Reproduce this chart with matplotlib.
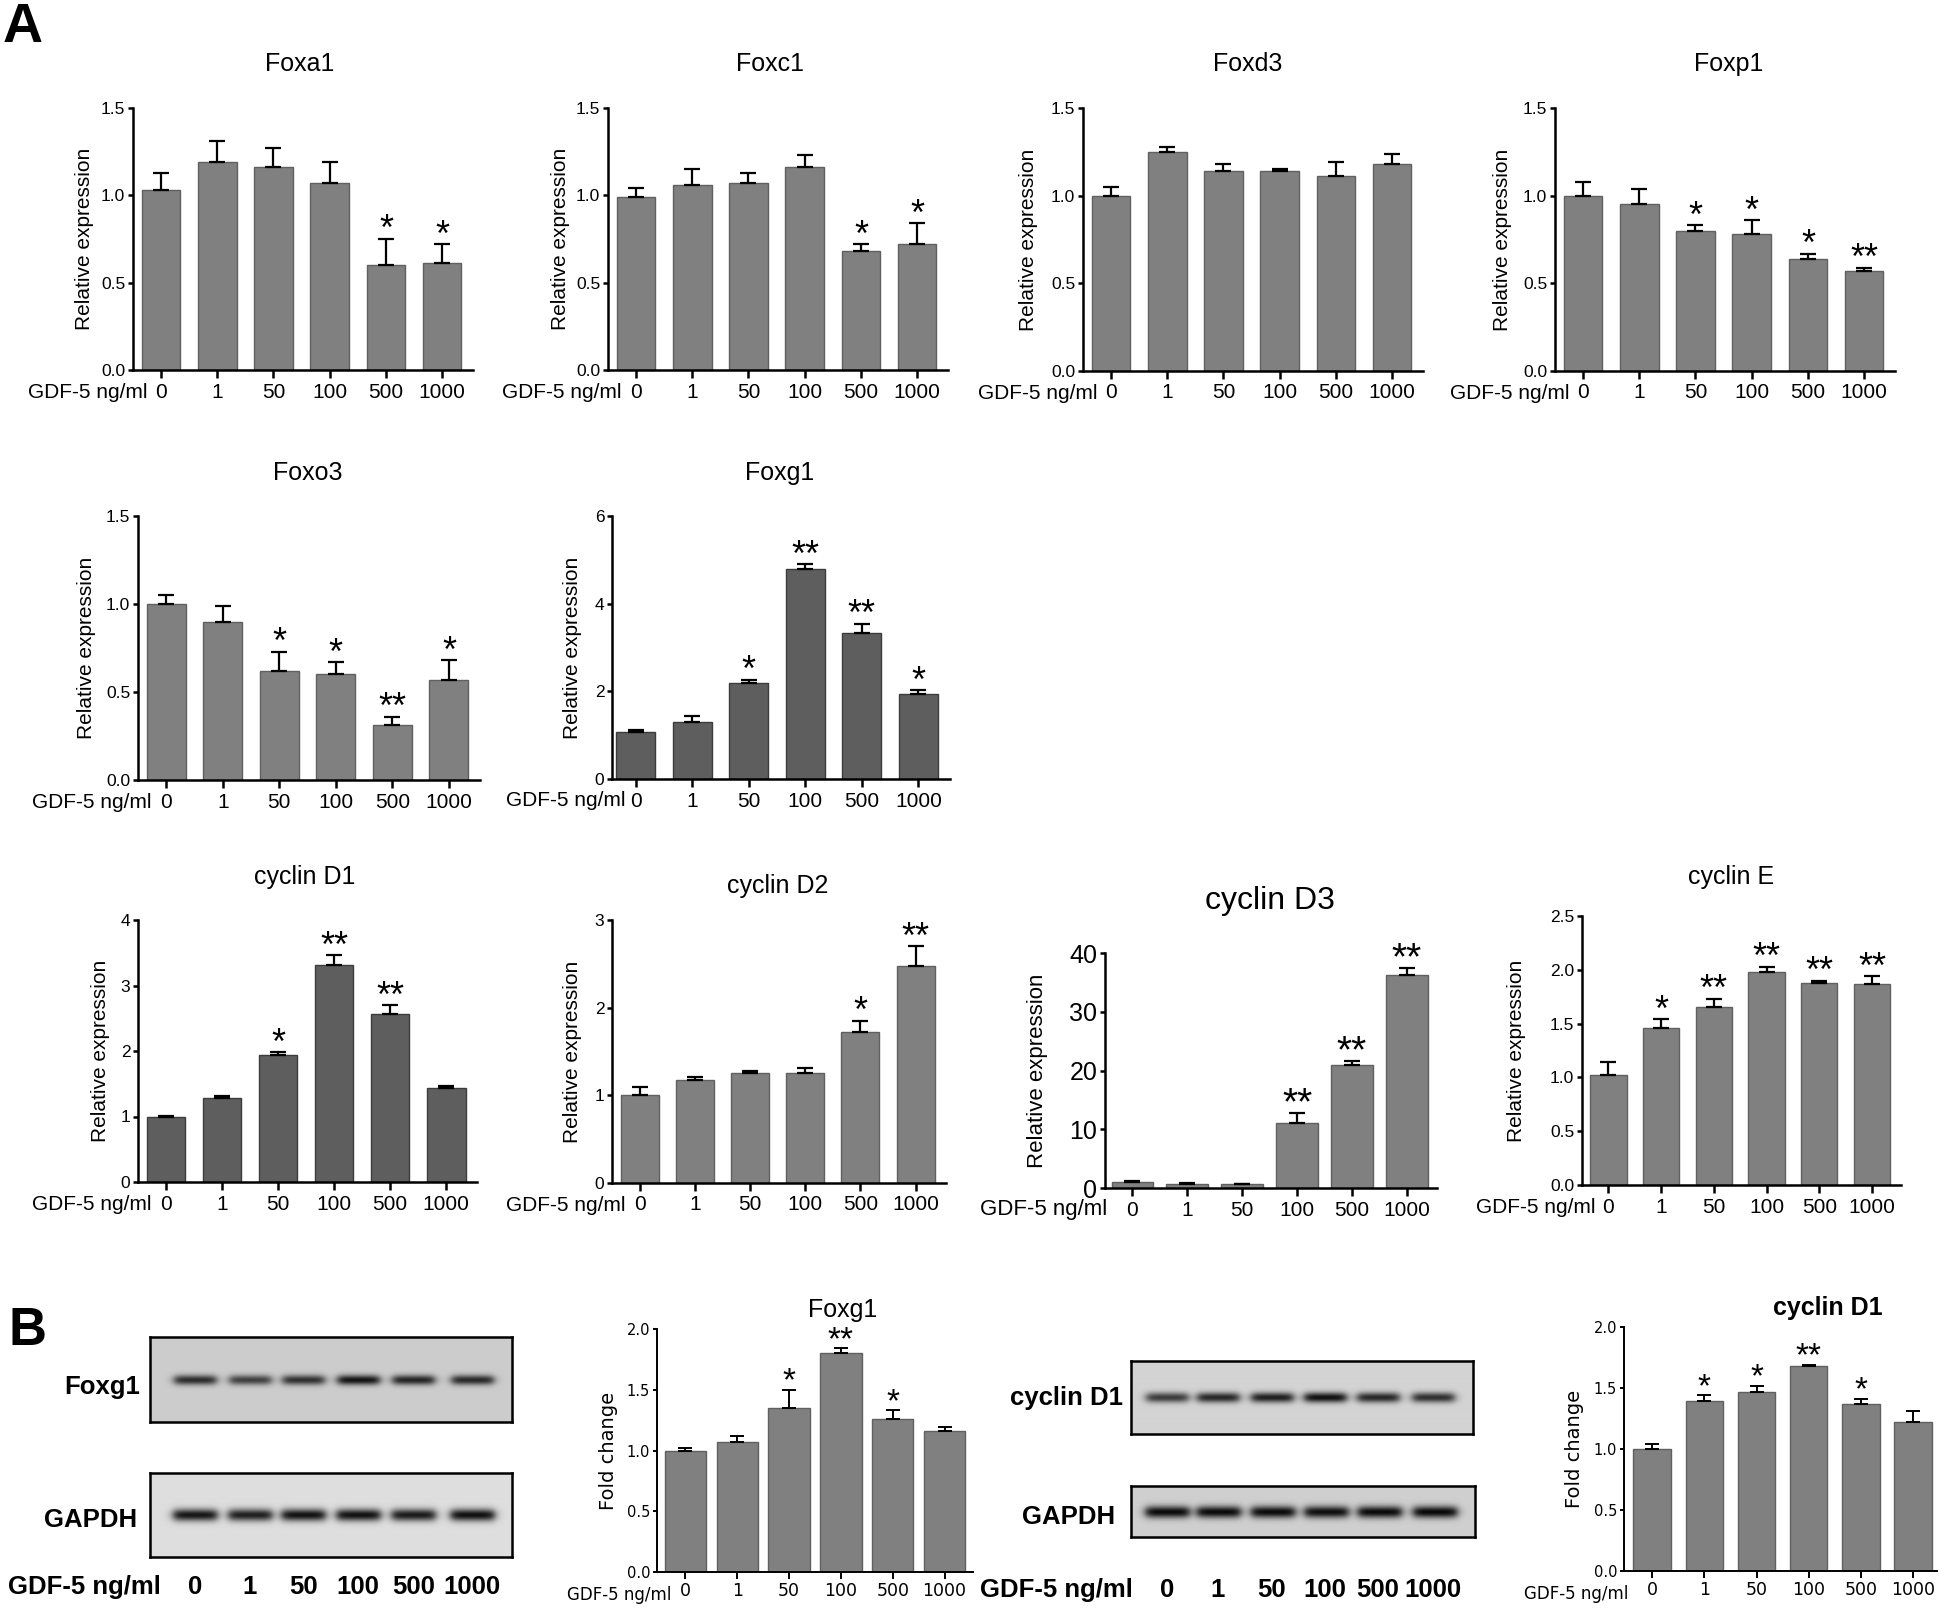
import numpy as np
import matplotlib
matplotlib.use('Agg')
import matplotlib.pyplot as plt
from matplotlib.ticker import FormatStrFormatter

W, H = 1946, 1610

doses = ['0', '1', '50', '100', '500', '1000']

# ---- Panel A: qPCR, relative expression (mean, upper error, significance) ----
foxa1_mean = [1.03, 1.19, 1.16, 1.07, 0.60, 0.61]
foxa1_err = [0.10, 0.12, 0.11, 0.12, 0.15, 0.11]
foxa1_sig = ['', '', '', '', '*', '*']

foxc1_mean = [0.99, 1.06, 1.07, 1.16, 0.68, 0.72]
foxc1_err = [0.05, 0.09, 0.06, 0.07, 0.04, 0.12]
foxc1_sig = ['', '', '', '', '*', '*']

foxd3_mean = [1.00, 1.25, 1.14, 1.14, 1.11, 1.18]
foxd3_err = [0.05, 0.03, 0.04, 0.01, 0.08, 0.06]
foxd3_sig = ['', '', '', '', '', '']

foxp1_mean = [1.00, 0.95, 0.80, 0.78, 0.64, 0.57]
foxp1_err = [0.08, 0.09, 0.03, 0.08, 0.03, 0.02]
foxp1_sig = ['', '', '*', '*', '*', '**']

foxo3_mean = [1.00, 0.90, 0.62, 0.60, 0.31, 0.57]
foxo3_err = [0.05, 0.09, 0.11, 0.07, 0.05, 0.11]
foxo3_sig = ['', '', '*', '*', '**', '*']

foxg1_mean = [1.07, 1.29, 2.20, 4.78, 3.34, 1.94]
foxg1_err = [0.05, 0.15, 0.06, 0.12, 0.20, 0.08]
foxg1_sig = ['', '', '*', '**', '**', '*']

ccnd1_mean = [1.00, 1.29, 1.94, 3.32, 2.57, 1.43]
ccnd1_err = [0.01, 0.02, 0.04, 0.14, 0.13, 0.03]
ccnd1_sig = ['', '', '*', '**', '**', '']

ccnd2_mean = [1.00, 1.18, 1.25, 1.26, 1.72, 2.48]
ccnd2_err = [0.10, 0.03, 0.03, 0.05, 0.13, 0.22]
ccnd2_sig = ['', '', '', '', '*', '**']

ccnd3_mean = [1.0, 0.75, 0.6, 11.1, 20.9, 36.3]
ccnd3_err = [0.2, 0.1, 0.1, 1.6, 0.8, 1.1]
ccnd3_sig = ['', '', '', '**', '**', '**']

ccne_mean = [1.02, 1.46, 1.65, 1.98, 1.88, 1.87]
ccne_err = [0.12, 0.08, 0.08, 0.05, 0.02, 0.07]
ccne_sig = ['', '*', '**', '**', '**', '**']

# ---- Panel B: western blot quantification (fold change) ----
wb_foxg1_mean = [1.00, 1.07, 1.35, 1.80, 1.26, 1.16]
wb_foxg1_err = [0.02, 0.05, 0.15, 0.04, 0.07, 0.03]
wb_foxg1_sig = ['', '', '*', '**', '*', '']

wb_ccnd1_mean = [1.00, 1.39, 1.47, 1.68, 1.37, 1.22]
wb_ccnd1_err = [0.04, 0.05, 0.05, 0.01, 0.04, 0.09]
wb_ccnd1_sig = ['', '*', '*', '**', '*', '']

# band darkness per lane (0 = no band, 1 = black)
blot_foxg1 = [0.78, 0.68, 0.76, 0.90, 0.82, 0.80]
blot_gapdh_1 = [0.90, 0.86, 0.92, 0.92, 0.88, 0.93]
blot_ccnd1 = [0.72, 0.82, 0.86, 0.93, 0.82, 0.78]
blot_gapdh_2 = [0.95, 0.95, 0.95, 0.93, 0.95, 0.96]

plt.rcParams['font.family'] = ['Liberation Sans', 'DejaVu Sans']

fig = plt.figure(figsize=(W / 100, H / 100), dpi=100)

A_STYLE = dict(bw=0.69, xlim=(-0.5, 5.55), spine=1.8, elw=1.6, cap=6, xtl=6, ytl=3.5,
               xfs=15, yfs=12.5, tfs=18, tweight='normal', lfs=15, gfs=15, sfs=26, soff=-1,
               family=['Liberation Sans', 'DejaVu Sans'], ylabel='Relative expression',
               gdx=14, gdy=22, xpad=3)
B_STYLE = dict(A_STYLE, bw=0.8, xlim=(-0.55, 5.55), spine=1.4, elw=1.4, cap=5, xtl=5, ytl=3,
               xfs=12.5, yfs=10.5, lfs=14, gfs=12, sfs=24, soff=-0.5,
               family=['DejaVu Sans'], ylabel='Fold change', gdy=23, xpad=2.5)


def px_axes(l, t, r, b):
    return fig.add_axes([l / W, 1 - b / H, (r - l) / W, (b - t) / H])


def bar_panel(box, title, mean, err, sig, ymax, yticks, yfmt, tx, tpad, loff,
              color='#808080', edge='#606060', base=A_STYLE, **kw):
    st = dict(base, **kw)
    l, t, r, b = box
    ax = px_axes(l, t, r, b)
    x = np.arange(len(doses))
    ax.bar(x, mean, width=st['bw'], color=color, edgecolor=edge, linewidth=1.0, zorder=2)
    ax.errorbar(x, mean, yerr=[np.zeros(len(mean)), err], fmt='none', ecolor='black',
                elinewidth=st['elw'], capsize=st['cap'], capthick=st['elw'], zorder=3)
    for i, s in enumerate(sig):
        if s:
            ax.annotate(s, (x[i], mean[i] + err[i]), xytext=(0, st['soff']),
                        textcoords='offset points', ha='center', va='baseline',
                        fontsize=st['sfs'], family=['Liberation Sans'])
    ax.set_xlim(*st['xlim'])
    ax.set_ylim(0, ymax)
    ax.set_yticks(yticks)
    if yfmt:
        ax.yaxis.set_major_formatter(FormatStrFormatter(yfmt))
    ax.set_xticks(x)
    ax.set_xticklabels(doses, fontsize=st['xfs'], family=st['family'])
    for lab in ax.get_yticklabels():
        lab.set_family(st['family'])
    ax.tick_params(axis='x', length=st['xtl'], width=st['spine'], pad=st['xpad'])
    ax.tick_params(axis='y', length=st['ytl'], width=st['spine'], pad=2,
                   labelsize=st['yfs'])
    for sp in ['top', 'right']:
        ax.spines[sp].set_visible(False)
    for sp in ['left', 'bottom']:
        ax.spines[sp].set_linewidth(st['spine'])
    ax.set_title(title, fontsize=st['tfs'], fontweight=st['tweight'], pad=tpad * 0.72,
                 x=(tx - l) / (r - l), family=['Liberation Sans'])
    ax.set_ylabel(st['ylabel'], fontsize=st['lfs'], va='center', family=st['family'])
    ax.yaxis.set_label_coords(-loff / (r - l), 0.5)
    fig.text((l + st['gdx']) / W, 1 - (b + st['gdy']) / H, 'GDF-5 ng/ml', ha='right',
             va='center', fontsize=st['gfs'], family=st['family'])
    return ax


def blot(box, lanes, strength, bg, band_w, band_h):
    l, t, r, b = box
    ax = px_axes(l, t, r, b)
    w, h = r - l, b - t
    yy = np.arange(h)[:, None]
    xx = np.arange(w)[None, :]
    img = np.full((h, w), bg)
    for cx, s in zip(lanes, strength):
        px = 1 / (1 + np.exp((np.abs(xx - cx * w) - band_w / 2) / 2.5))
        py = np.exp(-((yy - h * 0.5) / band_h) ** 2)
        img = img - s * bg * px * py
    ax.imshow(img, cmap='gray', vmin=0, vmax=1, aspect='auto', interpolation='bilinear')
    ax.set_xticks([])
    ax.set_yticks([])
    for sp in ax.spines.values():
        sp.set_linewidth(1.8)
    return ax


t15 = [0, 0.5, 1.0, 1.5]

# Row 1
bar_panel((133, 108, 473, 370), 'Foxa1', foxa1_mean, foxa1_err, foxa1_sig, 1.5, t15, '%.1f', 300, 37, 49)
bar_panel((608, 108, 948, 370), 'Foxc1', foxc1_mean, foxc1_err, foxc1_sig, 1.5, t15, '%.1f', 770, 37, 48)
bar_panel((1083, 108, 1423, 371), 'Foxd3', foxd3_mean, foxd3_err, foxd3_sig, 1.5, t15, '%.1f', 1248, 37, 55)
bar_panel((1555, 108, 1895, 371), 'Foxp1', foxp1_mean, foxp1_err, foxp1_sig, 1.5, t15, '%.1f', 1729, 37, 52)

# Row 2
bar_panel((138, 516, 480, 780), 'Foxo3', foxo3_mean, foxo3_err, foxo3_sig, 1.5, t15, '%.1f', 308, 36, 51)
bar_panel((612, 516, 950, 779), 'Foxg1', foxg1_mean, foxg1_err, foxg1_sig, 6, [0, 2, 4, 6], None, 780, 36, 40,
          color='#5e5e5e', edge='#3c3c3c', xlim=(-0.42, 5.56))

# Row 3
bar_panel((138, 920, 477, 1182), 'cyclin D1', ccnd1_mean, ccnd1_err, ccnd1_sig, 4, [0, 1, 2, 3, 4], None, 305, 36, 38,
          color='#5e5e5e', edge='#3c3c3c')
bar_panel((612, 920, 946, 1183), 'cyclin D2', ccnd2_mean, ccnd2_err, ccnd2_sig, 3, [0, 1, 2, 3], None, 778, 27, 39)
bar_panel((1105, 953, 1437, 1188), 'cyclin D3', ccnd3_mean, ccnd3_err, ccnd3_sig, 40, [0, 10, 20, 30, 40], None,
          1270, 44, 67, bw=0.76, yfs=18, tfs=23, lfs=16, gfs=16, gdx=2, sfs=28)
bar_panel((1582, 916, 1901, 1185), 'cyclin E', ccne_mean, ccne_err, ccne_sig, 2.5, [0, 0.5, 1.0, 1.5, 2.0, 2.5], '%.1f',
          1731, 32, 65)

# Panel B bar charts
bar_panel((657, 1329, 973, 1572), 'Foxg1', wb_foxg1_mean, wb_foxg1_err, wb_foxg1_sig, 2.0, t15 + [2.0], '%.1f',
          843, 12, 49, base=B_STYLE)
bar_panel((1624, 1327, 1937, 1571), 'cyclin D1', wb_ccnd1_mean, wb_ccnd1_err, wb_ccnd1_sig, 2.0, t15 + [2.0], '%.1f',
          1828, 12, 50, base=B_STYLE, tweight='bold', bw=0.72, xlim=(-0.54, 5.46), gdx=4)

# Panel B blots
lanes_1 = [0.124, 0.276, 0.423, 0.575, 0.727, 0.890]
lanes_2 = [0.105, 0.254, 0.412, 0.567, 0.722, 0.883]
blot((150, 1337, 512, 1422), lanes_1, blot_foxg1, 0.80, 42, 5)
blot((150, 1473, 512, 1557), lanes_1, blot_gapdh_1, 0.87, 44, 6)
blot((1131, 1361, 1473, 1434), lanes_2, blot_ccnd1, 0.83, 42, 5)
blot((1131, 1486, 1475, 1537), lanes_2, blot_gapdh_2, 0.81, 44, 6)

bold = dict(fontweight='bold', fontsize=18.5, va='center', family=['Liberation Sans'])
fig.text(140 / W, 1 - 1387 / H, 'Foxg1', ha='right', **bold)
fig.text(137 / W, 1 - 1520 / H, 'GAPDH', ha='right', **bold)
fig.text(8 / W, 1 - 1587 / H, 'GDF-5 ng/ml', ha='left', **bold)
for fx, d in zip(lanes_1, doses):
    fig.text((150 + fx * 362) / W, 1 - 1587 / H, d, ha='center', **bold)

fig.text(1123 / W, 1 - 1398 / H, 'cyclin D1', ha='right', **bold)
fig.text(1115 / W, 1 - 1517 / H, 'GAPDH', ha='right', **bold)
fig.text(980 / W, 1 - 1590 / H, 'GDF-5 ng/ml', ha='left', **bold)
for fx, d in zip(lanes_2, doses):
    fig.text((1131 + fx * 342) / W, 1 - 1590 / H, d, ha='center', **bold)

# panel letters
fig.text(23 / W, 1 - 28 / H, 'A', ha='center', va='center', fontsize=40, fontweight='bold')
fig.text(27 / W, 1 - 1331 / H, 'B', ha='center', va='center', fontsize=38, fontweight='bold')

fig.savefig('out.png', dpi=100)
